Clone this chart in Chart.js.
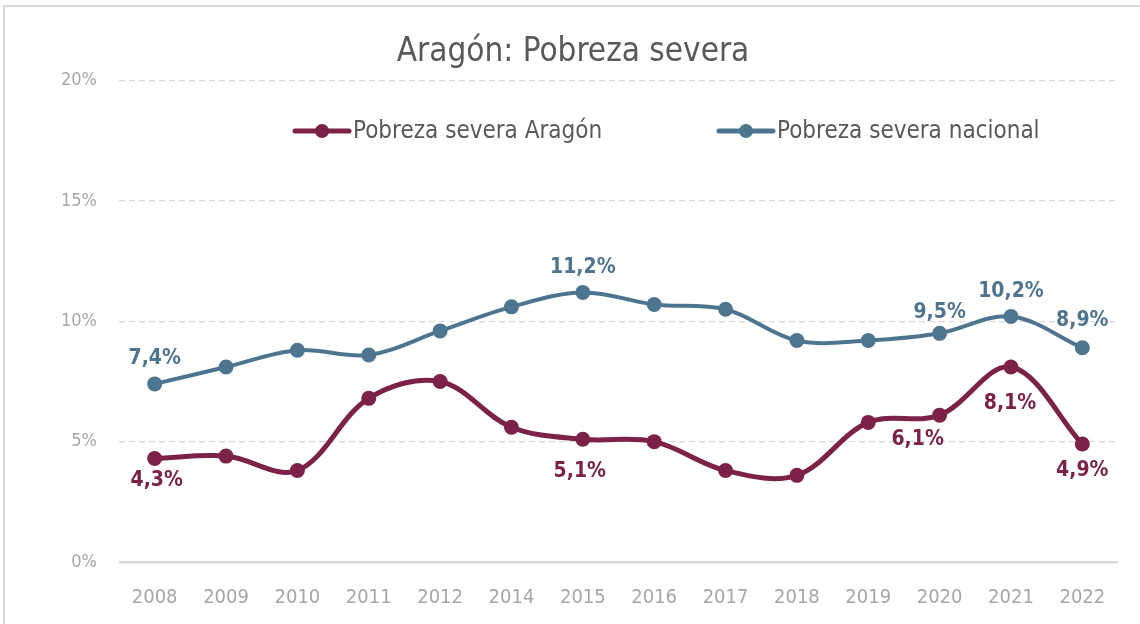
<!DOCTYPE html>
<html>
<head>
<meta charset="utf-8">
<script src="https://cdn.jsdelivr.net/npm/chart.js@4"></script>
<style>
  html, body { margin: 0; padding: 0; background: #fff; overflow: hidden; }
</style>
</head>
<body>
<canvas id="chart" width="1140" height="624"></canvas>
<script>
// --- datos ---
const years = ['2008', '2009', '2010', '2011', '2012', '2014', '2015', '2016', '2017', '2018', '2019', '2020', '2021', '2022'];
const aragon   = [4.3, 4.4, 3.8, 6.8, 7.5, 5.6, 5.1, 5.0, 3.8, 3.6, 5.8, 6.1, 8.1, 4.9];
const nacional = [7.4, 8.1, 8.8, 8.6, 9.6, 10.6, 11.2, 10.7, 10.5, 9.2, 9.2, 9.5, 10.2, 8.9];
// years with a visible label
const labelYears = ['2008', '2015', '2020', '2021', '2022'];
const yTicks = [0, 5, 10, 15, 20];

const colAragon = '#7c2147';
const colNacional = '#4e7590';
const fontFam = '"Liberation Sans Narrow", "DejaVu Sans Condensed", "Open Sans", sans-serif';

const fmt = v => v.toFixed(1).replace('.', ',') + '%';

// marco gris del gráfico
const frame = {
    id: 'frame',
    beforeDraw(chart) {
        const ctx = chart.ctx;
        ctx.save();
        ctx.fillStyle = '#fff';
        ctx.fillRect(0, 0, chart.width, chart.height);
        ctx.strokeStyle = '#d9d9d9';
        ctx.lineWidth = 2;
        ctx.strokeRect(4, 6, chart.width + 50, chart.height + 50);
        ctx.restore();
    }
};

// labels: nacional above, Aragón below
const pointLabels = {
    id: 'pointLabels',
    afterDatasetsDraw(chart) {
        const ctx = chart.ctx;
        ctx.save();
        ctx.font = 'bold 21px ' + fontFam;
        ctx.textAlign = 'center';
        ctx.textBaseline = 'middle';
        chart.data.datasets.forEach((ds, di) => {
            const meta = chart.getDatasetMeta(di);
            ctx.fillStyle = ds.borderColor;
            meta.data.forEach((pt, i) => {
                if (!labelYears.includes(years[i])) return;
                let dx = 0, dy = di === 1 ? -25 : 22;
                if (di === 0 && years[i] === '2021') { dy = 37; dx = -1; }
                if (di === 0 && years[i] === '2020') { dx = -22; dy = 24; }
                if (di === 0 && years[i] === '2015') { dy = 32; dx = -3; }
                if (di === 0 && years[i] === '2022') dy = 26;
                if (di === 0 && years[i] === '2008') dx = 2;
                if (di === 1 && years[i] === '2020') dy = -21;
                if (di === 1 && years[i] === '2022') dy = -27;
                ctx.fillText(fmt(ds.data[i]), pt.x + dx, pt.y + dy);
            });
        });
        ctx.restore();
    }
};

// legend drawn inside the plot, line + circle
const innerLegend = {
    id: 'innerLegend',
    afterDraw(chart) {
        const ctx = chart.ctx;
        ctx.save();
        ctx.font = '24px ' + fontFam;
        ctx.textBaseline = 'middle';
        const y = 131;
        const starts = [293, 717];
        chart.data.datasets.forEach((ds, di) => {
            const x = starts[di];
            ctx.strokeStyle = ds.borderColor;
            ctx.lineWidth = 5;
            ctx.lineCap = 'round';
            ctx.beginPath();
            ctx.moveTo(x + 2, y);
            ctx.lineTo(x + 56, y);
            ctx.stroke();
            ctx.fillStyle = ds.borderColor;
            ctx.beginPath();
            ctx.arc(x + 29, y, 7, 0, Math.PI * 2);
            ctx.fill();
            ctx.fillStyle = '#595959';
            ctx.fillText(ds.label, x + 60, y + 1);
        });
        ctx.restore();
    }
};

new Chart(document.getElementById('chart'), {
    type: 'line',
    data: {
        labels: years,
        datasets: [
            {
                label: 'Pobreza severa Aragón',
                data: aragon,
                borderColor: colAragon,
                backgroundColor: colAragon,
                borderWidth: 5,
                pointRadius: 7.5,
                pointBorderWidth: 0,
                tension: 0.35,
            },
            {
                label: 'Pobreza severa nacional',
                data: nacional,
                borderColor: colNacional,
                backgroundColor: colNacional,
                borderWidth: 4,
                pointRadius: 7.5,
                pointBorderWidth: 0,
                tension: 0.35,
            }
        ]
    },
    options: {
        responsive: false,
        animation: false,
        layout: { padding: { left: 28, right: 22, top: 0, bottom: 0 } },
        plugins: {
            legend: { display: false },
            tooltip: { enabled: false },
            title: {
                display: true,
                text: 'Aragón: Pobreza severa',
                color: '#595959',
                font: { family: fontFam, size: 33, weight: 'normal', lineHeight: 1.2 },
                padding: { top: 33, bottom: 8 }
            }
        },
        scales: {
            x: {
                offset: true,
                grid: { display: false },
                border: { display: false },
                ticks: { color: '#a6a6a6', padding: 16, font: { family: fontFam, size: 20 } },
                afterFit: s => { s.height = 62; }
            },
            y: {
                min: 0,
                max: 20,
                afterBuildTicks: s => { s.ticks = yTicks.map(v => ({ value: v })); },
                grid: {
                    color: '#d9d9d9',
                    lineWidth: c => c.tick && c.tick.value === 0 ? 2.5 : 1.2,
                    drawTicks: false
                },
                border: { display: false, dash: c => c.tick && c.tick.value === 0 ? [] : [6, 4] },
                ticks: {
                    color: '#a6a6a6',
                    padding: 22,
                    font: { family: fontFam, size: 18 },
                    callback: v => v + '%'
                },
                afterFit: s => { s.width = 91; }
            }
        }
    },
    plugins: [frame, pointLabels, innerLegend]
});
</script>
</body>
</html>
